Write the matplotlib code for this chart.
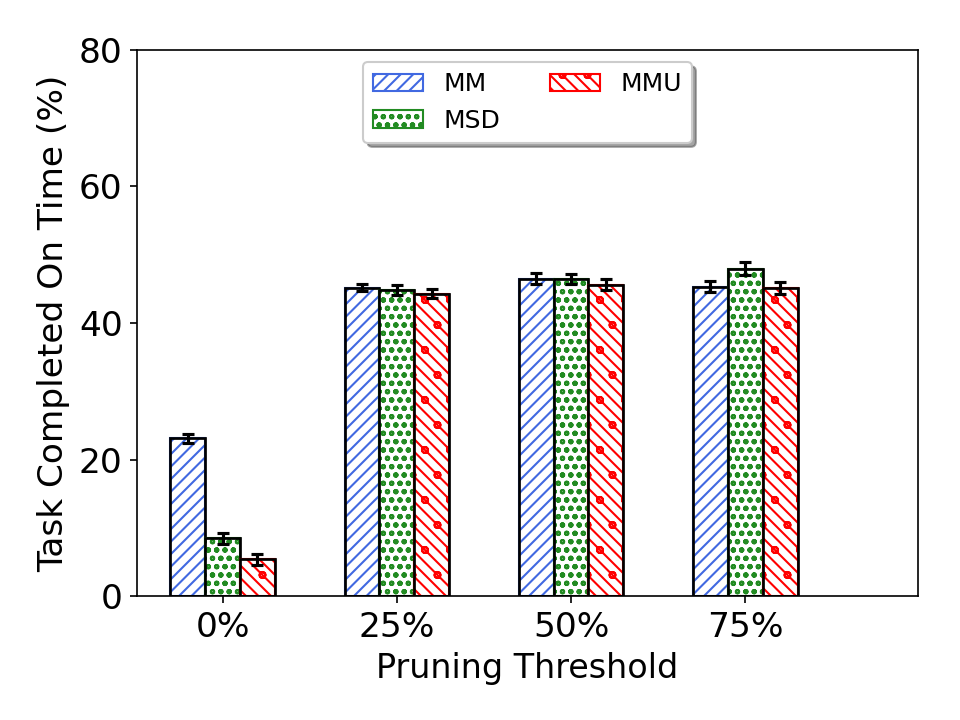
import numpy as np
import matplotlib
matplotlib.use("Agg")
import matplotlib.pyplot as plt
import matplotlib.hatch as mhatch

thresholds = ["0%", "25%", "50%", "75%"]
methods = ["MM", "MSD", "MMU"]
values = {
    "MM": [23.1, 45.15, 46.5, 45.3],
    "MSD": [8.45, 44.8, 46.45, 47.95],
    "MMU": [5.4, 44.3, 45.6, 45.1],
}
errors = {
    "MM": [0.7, 0.55, 0.75, 0.8],
    "MSD": [0.85, 0.7, 0.75, 1.0],
    "MMU": [0.8, 0.65, 0.85, 0.9],
}
colors = {"MM": "royalblue", "MSD": "forestgreen", "MMU": "red"}
hatches = {"MM": "////", "MSD": "ooo", "MMU": "\\\\\\\\o"}


# sparse 'o' hatch gets smaller rings (as in the original figure)
class SmallerCircles(mhatch.SmallCircles):
    def __init__(self, hatch, density):
        self.size = 0.2 if hatch.count("o") > 1 else 0.12
        super().__init__(hatch, density)


mhatch._hatch_types = [SmallerCircles if t is mhatch.SmallCircles else t
                       for t in mhatch._hatch_types]

fig = plt.figure(figsize=(6.4, 4.8), dpi=150)
ax = fig.add_axes([0.143, 0.172, 0.813, 0.759])

x = np.arange(len(thresholds))
width = 0.2
for i, m in enumerate(methods):
    pos = x + (i - 1) * width
    # hatched bar (coloured edge, used by the legend)
    ax.bar(pos, values[m], width, facecolor="white", edgecolor=colors[m],
           hatch=hatches[m], linewidth=1.0, label=m)
    # black outline on top
    ax.bar(pos, values[m], width, facecolor="none", edgecolor="black",
           linewidth=1.3)
    ax.errorbar(pos, values[m], yerr=errors[m], fmt="none", ecolor="black",
                elinewidth=1.5, capsize=3, capthick=1.5)

ax.set_xlim(-0.49, 3.99)
ax.set_ylim(0, 80)
ax.set_yticks([0, 20, 40, 60, 80])
ax.set_xticks(x)
ax.set_xticklabels(thresholds)
ax.tick_params(labelsize=16.5)
ax.set_xlabel("Pruning Threshold", fontsize=16)
ax.set_ylabel("Task Completed On Time (%)", fontsize=16.5)

ax.legend(loc="upper center", ncol=2, fontsize=12, shadow=True, fancybox=True)

fig.savefig("out.png", dpi=150)
